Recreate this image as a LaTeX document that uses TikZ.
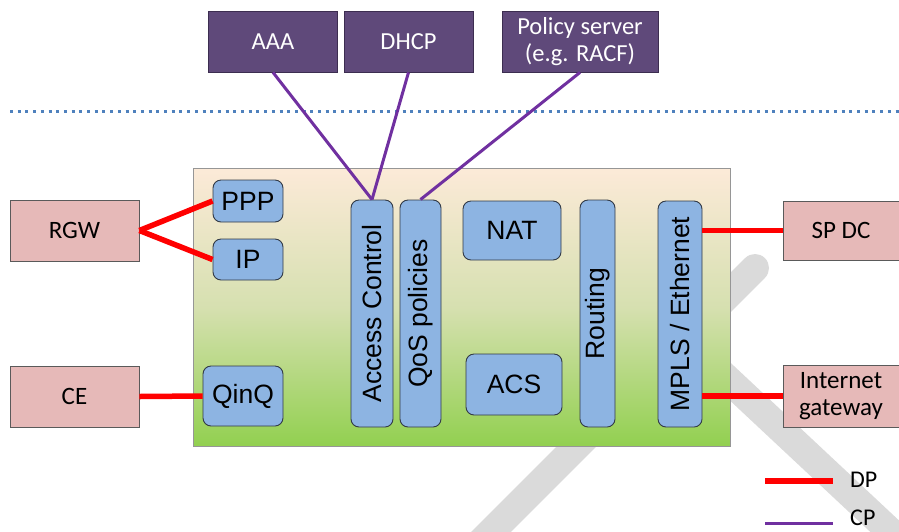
\documentclass[tikz,border=0pt]{standalone}
\usepackage{fontspec}
\setmainfont{Carlito}
\newfontfamily\boxfont{Liberation Sans}
\usetikzlibrary{calc}

\definecolor{srvfill}{RGB}{95,73,122}
\definecolor{srvborder}{RGB}{60,45,80}
\definecolor{custfill}{RGB}{230,185,184}
\definecolor{custborder}{RGB}{90,90,90}
\definecolor{fnfill}{RGB}{141,180,226}
\definecolor{fnborder}{RGB}{50,58,70}
\definecolor{dpred}{RGB}{255,0,0}
\definecolor{cppurple}{RGB}{112,48,160}
\definecolor{sepblue}{RGB}{79,129,189}
\definecolor{bandgrey}{RGB}{218,218,218}
\definecolor{edgetop}{RGB}{252,234,216}
\definecolor{edgemid}{RGB}{214,224,176}
\definecolor{edgebot}{RGB}{146,208,80}
\definecolor{edgeborder}{RGB}{150,150,150}

\tikzset{
  srv/.style={draw=srvborder, fill=srvfill, text=white, line width=0.8pt,
    inner sep=0pt, align=center, font=\fontsize{24.5}{27}\selectfont},
  cust/.style={draw=custborder, fill=custfill, text=black, line width=0.8pt,
    inner sep=0pt, align=center, font=\fontsize{25}{29}\selectfont},
  fn/.style={draw=fnborder, fill=fnfill, text=black, line width=0.9pt,
    rounded corners=8pt, inner sep=0pt, align=center,
    font=\boxfont\fontsize{26.5}{30}\selectfont},
  dpline/.style={draw=dpred, line width=5.5pt},
  cpline/.style={draw=cppurple, line width=3pt},
  band/.style={draw=bandgrey, line width=28pt, line cap=round},
  legendtext/.style={anchor=west, inner sep=0pt, font=\fontsize{24}{27}\selectfont}
}

\begin{document}
\begin{tikzpicture}[x=1pt,y=-1pt]
\useasboundingbox (0,0) rectangle (899,531);

% background cross strokes
\begin{scope}
  \clip (0,0) rectangle (899,531);
  \coordinate (bandAtop) at (755,268);
  \coordinate (bandAend) at (450,573);
  \coordinate (bandBtop) at (690,344);
  \coordinate (bandBend) at (940,578);
  \draw[band] (bandAtop) -- (bandAend);
  \draw[band, line cap=butt] (bandBtop) -- (bandBend);
\end{scope}

% control plane / data plane separator
\coordinate (sepL) at (10,111);
\coordinate (sepR) at (902,111);
\draw[sepblue, line width=3pt, dash pattern=on 3pt off 4.7pt] (sepL) -- (sepR);

% control plane servers
\node[srv, minimum width=129pt, minimum height=61pt] (aaa) at (273,41.5) {AAA};
\node[srv, minimum width=129pt, minimum height=61pt] (dhcp) at (408.5,41.5) {DHCP};
\node[srv, minimum width=156pt, minimum height=61pt] (policy) at (580,41.5) {Policy server\\(e.g. RACF)};

% edge node
\node[draw=edgeborder, line width=0.8pt, top color=edgetop, bottom color=edgebot,
      middle color=edgemid, minimum width=537pt, minimum height=278pt, inner sep=0pt]
      (edge) at (461.5,307) {};

% functions inside the edge node
\node[fn, minimum width=70pt, minimum height=42pt] (ppp) at (248,201) {PPP};
\node[fn, minimum width=70pt, minimum height=41pt] (ip) at (248,259.5) {IP};
\node[fn, minimum width=80pt, minimum height=60pt] (qinq) at (243,396) {QinQ};
\node[fn, minimum width=42pt, minimum height=227pt] (acc) at (372,313.5) {\rotatebox{90}{Access Control}};
\node[fn, minimum width=41pt, minimum height=227pt] (qos) at (420.5,313.5) {\rotatebox{90}{QoS policies}};
\node[fn, minimum width=98pt, minimum height=59pt] (nat) at (512,230.5) {NAT};
\node[fn, minimum width=96pt, minimum height=61pt] (acs) at (514,384.5) {ACS};
\node[fn, minimum width=35pt, minimum height=227pt] (routing) at (597.5,313.5) {\rotatebox{90}{Routing}};
\node[fn, minimum width=44pt, minimum height=226pt] (mpls) at (680,314) {\rotatebox{90}{MPLS / Ethernet}};

% customer and network side
\node[cust, minimum width=129pt, minimum height=61pt] (rgw) at (74.5,230.5) {RGW};
\node[cust, minimum width=129pt, minimum height=61pt] (ce) at (74.5,396.5) {CE};
\node[cust, minimum width=122pt, minimum height=59pt] (spdc) at (844,230.5) {\hspace*{-6pt}SP DC};
\node[cust, minimum width=122pt, minimum height=62pt] (inet) at (844,396) {\hspace*{-6pt}\begin{tabular}{@{}c@{}}Internet\\[-2pt]gateway\end{tabular}};

% data plane links
\draw[dpline] (rgw.east) -- (ppp.west);
\draw[dpline] (rgw.east) -- (ip.west);
\draw[dpline] (ce.east) -- (qinq.west);
\draw[dpline] (spdc.west) -- (spdc.west -| mpls.east);
\draw[dpline] (inet.west) -- (inet.west -| mpls.east);

% control plane links
\draw[cpline] (aaa.south) -- (acc.north);
\draw[cpline] (dhcp.south) -- (acc.north);
\draw[cpline] (policy.south) -- (qos.north);

% legend
\coordinate (dpA) at (765,481);
\coordinate (dpB) at (833,481);
\coordinate (cpA) at (765,523);
\coordinate (cpB) at (833,523);
\draw[dpline] (dpA) -- (dpB);
\draw[cpline] (cpA) -- (cpB);
\node[legendtext] (dplabel) at (850,480) {DP};
\node[legendtext] (cplabel) at (850,518) {CP};
\end{tikzpicture}
\end{document}
